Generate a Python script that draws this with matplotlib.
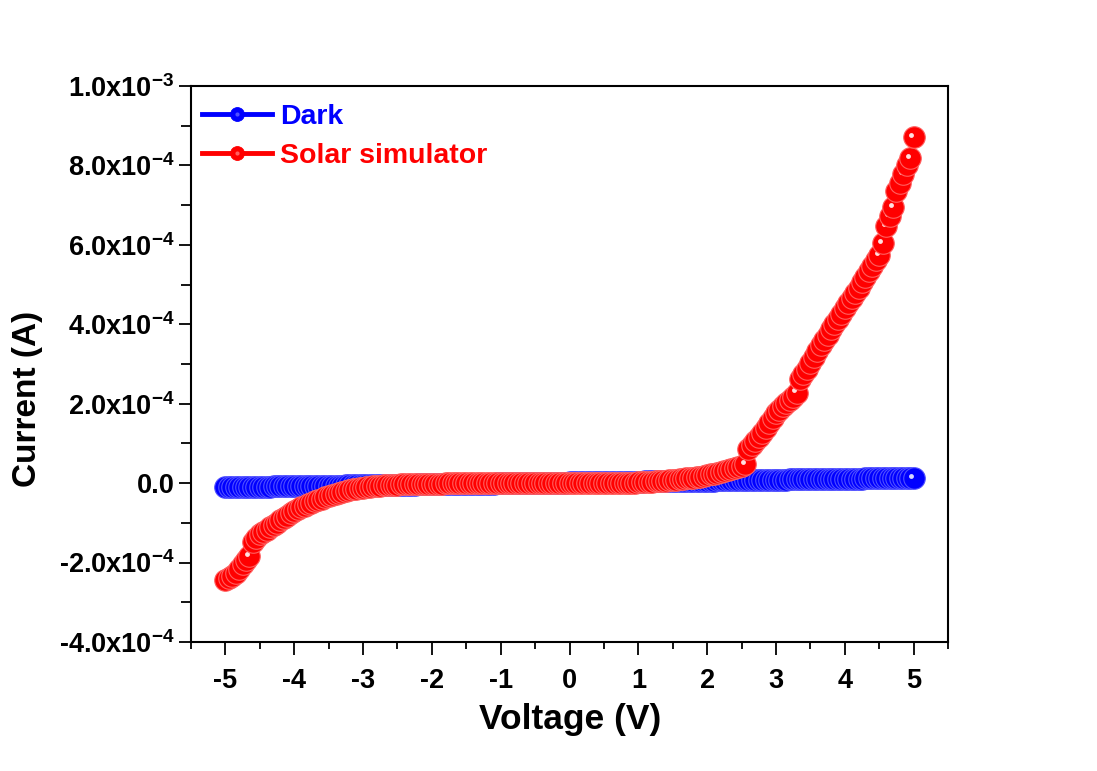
import numpy as np
import matplotlib
matplotlib.use('Agg')
import matplotlib.pyplot as plt
from matplotlib.ticker import MultipleLocator, FuncFormatter
from matplotlib.lines import Line2D
from matplotlib.legend_handler import HandlerTuple
from matplotlib.transforms import ScaledTranslation

plt.rcParams['font.family'] = ['Liberation Sans', 'DejaVu Sans']
plt.rcParams['font.weight'] = 'bold'
plt.rcParams['mathtext.fontset'] = 'custom'
plt.rcParams['mathtext.rm'] = 'Liberation Sans:bold'
plt.rcParams['mathtext.default'] = 'rm'
plt.rcParams['axes.unicode_minus'] = False

# voltage sweep, -5 V .. 5 V in 0.05 V steps
voltage = np.round(np.linspace(-5, 5, 201), 2)

# currents in microamps
dark_uA = [
    -10.0, -9.9, -9.7, -9.6, -9.5, -9.4, -9.3, -9.2, -9.0, -8.9, -8.8, -8.7, -8.6, -8.5, -8.3, -8.2, -8.1, -8.0, -7.9, -7.8,
    -7.6, -7.5, -7.4, -7.3, -7.2, -7.1, -6.9, -6.8, -6.7, -6.6, -6.5, -6.4, -6.2, -6.1, -6.0, -5.9, -5.8, -5.7, -5.5, -5.4,
    -5.3, -5.2, -5.1, -5.0, -4.8, -4.7, -4.6, -4.5, -4.4, -4.3, -4.1, -4.0, -3.9, -3.8, -3.7, -3.6, -3.4, -3.3, -3.2, -3.1,
    -3.0, -2.9, -2.7, -2.6, -2.5, -2.4, -2.3, -2.2, -2.0, -1.9, -1.8, -1.7, -1.6, -1.5, -1.3, -1.2, -1.1, -1.0, -0.9, -0.8,
    -0.6, -0.5, -0.4, -0.3, -0.2, -0.1, 0.1, 0.2, 0.3, 0.4, 0.5, 0.6, 0.8, 0.9, 1.0, 1.1, 1.2, 1.3, 1.5, 1.6,
    1.7, 1.8, 1.9, 2.0, 2.2, 2.3, 2.4, 2.5, 2.6, 2.7, 2.9, 3.0, 3.1, 3.2, 3.3, 3.4, 3.6, 3.7, 3.8, 3.9,
    4.0, 4.1, 4.3, 4.4, 4.5, 4.6, 4.7, 4.8, 5.0, 5.1, 5.2, 5.3, 5.4, 5.5, 5.7, 5.8, 5.9, 6.0, 6.1, 6.2,
    6.4, 6.5, 6.6, 6.7, 6.8, 6.9, 7.1, 7.2, 7.3, 7.4, 7.5, 7.6, 7.8, 7.9, 8.0, 8.1, 8.2, 8.3, 8.5, 8.6,
    8.7, 8.8, 8.9, 9.0, 9.2, 9.3, 9.4, 9.5, 9.6, 9.7, 9.9, 10.0, 10.1, 10.2, 10.3, 10.4, 10.6, 10.7, 10.8, 10.9,
    11.0, 11.1, 11.3, 11.4, 11.5, 11.6, 11.7, 11.8, 12.0, 12.1, 12.2, 12.3, 12.4, 12.5, 12.7, 12.8, 12.9, 13.0, 13.1, 13.2,
    13.4,
]
solar_uA = [
    -245, -240, -233, -225, -215, -204, -193, -183, -147, -138, -129, -123, -117, -111, -105, -100, -94, -88, -82, -76,
    -70, -65, -61, -57, -53, -49, -45, -42, -39, -36, -33, -30, -27, -25, -22, -20, -18, -16, -14, -12.5,
    -11, -10, -9, -8, -7, -6.3, -5.6, -5, -4.5, -4, -3.6, -3.2, -2.9, -2.6, -2.3, -2.1, -1.9, -1.7, -1.5, -1.4,
    -1.2, -1.1, -1.0, -0.9, -0.8, -0.7, -0.6, -0.6, -0.5, -0.4, -0.4, -0.3, -0.3, -0.2, -0.2, -0.1, -0.1, 0.0, 0.0, 0.0,
    0.0, 0.1, 0.1, 0.1, 0.1, 0.2, 0.2, 0.2, 0.2, 0.2, 0.3, 0.3, 0.3, 0.3, 0.3, 0.4, 0.4, 0.4, 0.4, 0.4,
    0.5, 0.5, 0.5, 0.6, 0.6, 0.6, 0.7, 0.7, 0.7, 0.8, 0.8, 0.9, 0.9, 1.0, 1.0, 1.1, 1.2, 1.3, 1.4, 1.5,
    2.0, 2.4, 2.8, 3.3, 3.8, 4.4, 5.0, 5.7, 6.4, 7.2, 8.0, 8.9, 9.8, 10.8, 11.8, 12.9, 14.0, 15.2, 16.4, 17.7,
    20, 22, 24, 26, 28, 30, 32, 34.5, 37, 40, 43, 47, 87, 97, 107, 117, 127, 139, 151, 163,
    177, 185, 193, 201, 209, 218, 228, 263, 274, 288, 303, 318, 333, 347, 360, 374, 387, 400, 413, 427,
    440, 453, 466, 479, 492, 506, 519, 533, 547, 561, 574, 604, 648, 672, 695, 735, 757, 778, 800, 818,
    872,
]

dark = np.array(dark_uA) * 1e-6
solar = np.array(solar_uA) * 1e-6

labels = ['Dark', 'Solar simulator']
colors = ['#0000ff', '#ff0000']
edges = ['#5050ff', '#ff6060']
shines = ['#d8d8ff', '#ffe0e0']

fig = plt.figure(figsize=(10.97, 7.71), dpi=100)
ax = fig.add_axes([191 / 1097, 1 - 642 / 771, (948 - 191) / 1097, (642 - 86) / 771])

# little highlight spot up and left of each ball
shine_tr = ax.transData + ScaledTranslation(-0.022, 0.022, fig.dpi_scale_trans)


def draw_balls(x, y, color, edge, shine, z):
    ax.plot(x, y, '-', color=color, lw=3, zorder=z)
    for xi, yi in zip(x, y):
        ax.plot([xi], [yi], 'o', ms=15.5, mfc=color, mec=edge, mew=0.8, zorder=z)
        ax.plot([xi], [yi], 'o', ms=3.5, mfc=shine, mec='none', zorder=z,
                transform=shine_tr)


draw_balls(voltage, dark, colors[0], edges[0], shines[0], 2)
draw_balls(voltage, solar, colors[1], edges[1], shines[1], 3)

ax.set_xlim(-5.5, 5.5)
ax.set_ylim(-4.0e-4, 1.0e-3)
ax.xaxis.set_major_locator(MultipleLocator(1))
ax.xaxis.set_minor_locator(MultipleLocator(0.5))
ax.yaxis.set_major_locator(MultipleLocator(2e-4))
ax.yaxis.set_minor_locator(MultipleLocator(1e-4))


def sci_fmt(y, pos):
    if abs(y) < 1e-12:
        return '0.0'
    e = int(np.floor(np.log10(abs(y)) + 1e-9))
    return r'%.1fx10$^{%d}$' % (y / 10 ** e, e)


ax.yaxis.set_major_formatter(FuncFormatter(sci_fmt))
ax.xaxis.set_major_formatter(FuncFormatter(lambda v, p: '%d' % round(v)))

for s in ax.spines.values():
    s.set_linewidth(1.5)
ax.tick_params(which='both', direction='out', width=1.3, top=False, right=False)
ax.tick_params(which='major', length=9, labelsize=19.5)
ax.tick_params(axis='y', which='major', pad=3)
ax.tick_params(axis='x', which='major', pad=10)
ax.tick_params(axis='x', which='minor', length=5)
ax.tick_params(axis='y', which='minor', length=7)

fig.text(570 / 1097, 1 - 729 / 771, 'Voltage (V)', fontsize=25.5, fontweight='bold',
         ha='center', va='baseline')
fig.text(28 / 1097, 1 - 399 / 771, 'Current (A)', fontsize=24, fontweight='bold',
         rotation=90, ha='center', va='center')

handles = []
for c, e in zip(colors, edges):
    h1 = Line2D([], [], color=c, lw=3.5, marker='o', ms=10, mfc=c, mec=c, mew=0.6)
    h2 = Line2D([], [], ls='none', marker='o', ms=3, mfc=e, mec='none')
    handles.append((h1, h2))
leg = ax.legend(handles, labels, handler_map={tuple: HandlerTuple(ndivide=1, pad=0)},
                loc='upper left', bbox_to_anchor=(0.0, 0.988), frameon=False,
                fontsize=20.5, handlelength=2.45, handletextpad=0.28, labelspacing=0.45,
                borderaxespad=0.2, borderpad=0.2)
for t, c in zip(leg.get_texts(), colors):
    t.set_color(c)
    t.set_fontweight('bold')

fig.savefig('out.png', dpi=100, facecolor='white')
